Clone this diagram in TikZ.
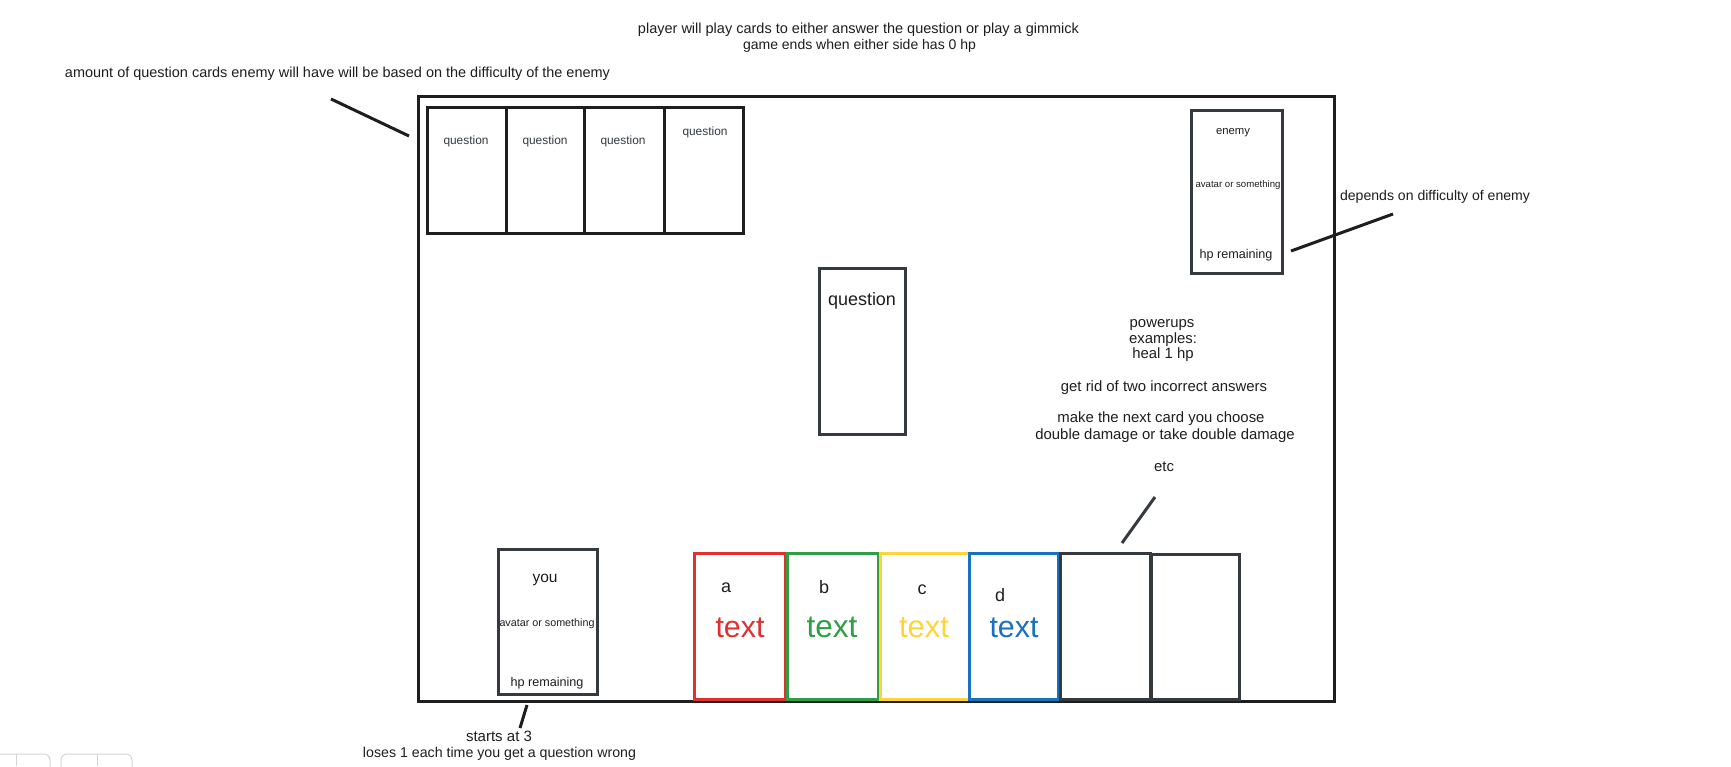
\documentclass[tikz,border=0pt]{standalone}
\usepackage{fontspec}
\setmainfont{Liberation Sans}
\usepackage{graphicx}
\definecolor{ink}{HTML}{1E1E1E}
\definecolor{cardgray}{HTML}{343A40}
\definecolor{cred}{HTML}{E03131}
\definecolor{cgreen}{HTML}{2F9E44}
\definecolor{cyellow}{HTML}{FFD43B}
\definecolor{cblue}{HTML}{1971C2}
\definecolor{uigray}{HTML}{D4D4D4}
\newcommand\fitw[2]{\resizebox{#1pt}{!}{\strut #2}}
\tikzset{
  card/.style={draw=#1, line width=3pt, inner sep=0pt, outer sep=0pt, rectangle},
  card/.default=ink,
  txt/.style={inner sep=0pt, outer sep=0pt, text=ink, anchor=center, yshift=-2pt},
  pw/.style={txt, font=\fontsize{14.9}{16}\selectfont},
  letter/.style={txt, font=\fontsize{18}{20}\selectfont},
  big/.style={txt, yshift=-2pt},
  note/.style={draw=ink, line width=3pt},
  ui/.style={draw=uigray, line width=1pt, rounded corners=6pt}
}
\begin{document}
\begin{tikzpicture}[x=1pt,y=-1pt]
\useasboundingbox (0,0) rectangle (1731,766);
\fill[white] (0,0) rectangle (1731,766);

% top notes
\node[txt] (top1) at (858.5,28) {\fitw{441}{player will play cards to either answer the question or play a gimmick}};
\node[txt] (top2) at (859.5,44) {\fitw{233}{game ends when either side has 0 hp}};
\node[txt] (left) at (337.5,72) {\fitw{545}{amount of question cards enemy will have will be based on the difficulty of the enemy}};

% main frame
\node[card, minimum width=916pt, minimum height=605pt] (frame) at (876,398.5) {};

% enemy question cards
\node[card, minimum width=79pt, minimum height=126pt] (q1) at (466.5,170) {};
\node[card, minimum width=78pt, minimum height=126pt] (q2) at (545,170) {};
\node[card, minimum width=80pt, minimum height=126pt] (q3) at (624,170) {};
\node[card, minimum width=79pt, minimum height=126pt] (q4) at (703.5,170) {};
\node[txt, text=cardgray] (q1t) at (466,140) {\fitw{45}{question}};
\node[txt, text=cardgray] (q2t) at (545,140) {\fitw{45}{question}};
\node[txt, text=cardgray] (q3t) at (623,140) {\fitw{45}{question}};
\node[txt, text=cardgray] (q4t) at (705,131) {\fitw{45}{question}};
\coordinate (l1a) at (331,99);
\coordinate (l1b) at (409,136);
\draw[note] (l1a) -- (l1b);

% enemy card
\node[card=cardgray, minimum width=91pt, minimum height=163pt] (enemy) at (1236.5,191.5) {};
\node[txt] (enemyt) at (1233,130) {\fitw{34}{enemy}};
\node[txt] (enemya) at (1238,183) {\fitw{85}{avatar or something}};
\node[txt] (enemyh) at (1236,253) {\fitw{73}{hp remaining}};
\coordinate (l2a) at (1291,251);
\coordinate (l2b) at (1393,214);
\draw[note] (l2a) -- (l2b);
\node[txt] (dep) at (1435,195) {\fitw{190}{depends on difficulty of enemy}};

% centre question card
\node[card=cardgray, minimum width=86pt, minimum height=166pt] (cq) at (862.5,351) {};
\node[txt] (cqt) at (862,299) {\fitw{68}{question}};

% powerups
\node[pw] (p1) at (1162,322) {\strut powerups};
\node[pw] (p2) at (1163,338) {\strut examples:};
\node[pw] (p3) at (1163,353) {\strut heal 1 hp};
\node[pw] (p4) at (1164,386) {\strut get rid of two incorrect answers};
\node[pw] (p5) at (1161,417) {\strut make the next card you choose};
\node[pw] (p6) at (1165,434) {\strut double damage or take double damage};
\node[pw] (p7) at (1164,466) {\strut etc};
\coordinate (l3a) at (1155,497);
\coordinate (l3b) at (1122,543);
\draw[draw=cardgray, line width=3pt] (l3a) -- (l3b);

% player card
\node[card=cardgray, minimum width=99pt, minimum height=145pt] (you) at (547.5,621.5) {};
\node[txt] (yout) at (545,577) {\fitw{25}{you}};
\node[txt] (youa) at (547,622) {\fitw{95}{avatar or something}};
\node[txt] (youh) at (547,681) {\fitw{73}{hp remaining}};
\coordinate (l4a) at (527,705);
\coordinate (l4b) at (520,728);
\draw[note] (l4a) -- (l4b);
\node[txt] (st1) at (499,736) {\fitw{66}{starts at 3}};
\node[txt] (st2) at (499.5,752) {\fitw{273}{loses 1 each time you get a question wrong}};

% answer cards
\node[card=cred, minimum width=91pt, minimum height=146pt] (ca) at (739.5,626.5) {};
\node[card=cgreen, minimum width=91pt, minimum height=146pt] (cb) at (833,626.5) {};
\node[card=cyellow, minimum width=89pt, minimum height=146pt] (cc) at (924.5,626.5) {};
\node[card=cblue, minimum width=89pt, minimum height=146pt] (cd) at (1014,626.5) {};
\node[card=cardgray, minimum width=90pt, minimum height=146pt] (ce) at (1105,626.5) {};
\node[card=cardgray, minimum width=88pt, minimum height=145pt] (cf) at (1195,627) {};
\node[letter] (la) at (726,586) {\strut a};
\node[letter] (lb) at (824,587) {\strut b};
\node[letter] (lc) at (922,588) {\strut c};
\node[letter] (ld) at (1000,595) {\strut d};
\node[big, text=cred] (ta) at (740,626) {\fitw{49}{text}};
\node[big, text=cgreen] (tb) at (832,626) {\fitw{51}{text}};
\node[big, text=cyellow] (tc) at (924,626) {\fitw{50}{text}};
\node[big, text=cblue] (td) at (1014,626) {\fitw{49}{text}};

% interface remnants at the lower left
\draw[ui] (-10,780) -- (-10,754) -- (50,754) -- (50,780);
\draw[uigray, line width=1pt] (16,754) -- (16,766);
\draw[ui] (61,780) -- (61,754) -- (132,754) -- (132,780);
\draw[uigray, line width=1pt] (97,754) -- (97,766);
\end{tikzpicture}
\end{document}
